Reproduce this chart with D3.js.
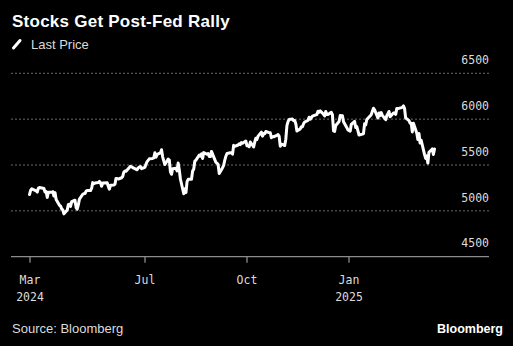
<!DOCTYPE html>
<html>
<head>
<meta charset="utf-8">
<script src="https://cdn.jsdelivr.net/npm/d3@7"></script>
<style>
  html, body { margin: 0; padding: 0; background: #000; }
  svg { display: block; }
</style>
</head>
<body>
<div id="chart"></div>
<script>
const chartWidth = 513;
const chartHeight = 346;

// S&P 500 daily close, one session per entry
const sessionDates = [
  "2024-03-19","2024-03-20","2024-03-21","2024-03-22","2024-03-25","2024-03-26","2024-03-27","2024-03-28",
  "2024-04-01","2024-04-02","2024-04-03","2024-04-04","2024-04-05","2024-04-08","2024-04-09","2024-04-10","2024-04-11","2024-04-12",
  "2024-04-15","2024-04-16","2024-04-17","2024-04-18","2024-04-19","2024-04-22","2024-04-23","2024-04-24","2024-04-25","2024-04-26",
  "2024-04-29","2024-04-30",
  "2024-05-01","2024-05-02","2024-05-03","2024-05-06","2024-05-07","2024-05-08","2024-05-09","2024-05-10","2024-05-13","2024-05-14",
  "2024-05-15","2024-05-16","2024-05-17","2024-05-20","2024-05-21","2024-05-22","2024-05-23","2024-05-24","2024-05-28","2024-05-29",
  "2024-05-30","2024-05-31",
  "2024-06-03","2024-06-04","2024-06-05","2024-06-06","2024-06-07","2024-06-10","2024-06-11","2024-06-12","2024-06-13","2024-06-14",
  "2024-06-17","2024-06-18","2024-06-20","2024-06-21","2024-06-24","2024-06-25","2024-06-26","2024-06-27","2024-06-28",
  "2024-07-01","2024-07-02","2024-07-03","2024-07-05","2024-07-08","2024-07-09","2024-07-10","2024-07-11","2024-07-12","2024-07-15",
  "2024-07-16","2024-07-17","2024-07-18","2024-07-19","2024-07-22","2024-07-23","2024-07-24","2024-07-25","2024-07-26","2024-07-29",
  "2024-07-30","2024-07-31",
  "2024-08-01","2024-08-02","2024-08-05","2024-08-06","2024-08-07","2024-08-08","2024-08-09","2024-08-12","2024-08-13","2024-08-14",
  "2024-08-15","2024-08-16","2024-08-19","2024-08-20","2024-08-21","2024-08-22","2024-08-23","2024-08-26","2024-08-27","2024-08-28",
  "2024-08-29","2024-08-30",
  "2024-09-03","2024-09-04","2024-09-05","2024-09-06","2024-09-09","2024-09-10","2024-09-11","2024-09-12","2024-09-13","2024-09-16",
  "2024-09-17","2024-09-18","2024-09-19","2024-09-20","2024-09-23","2024-09-24","2024-09-25","2024-09-26","2024-09-27","2024-09-30",
  "2024-10-01","2024-10-02","2024-10-03","2024-10-04","2024-10-07","2024-10-08","2024-10-09","2024-10-10","2024-10-11","2024-10-14",
  "2024-10-15","2024-10-16","2024-10-17","2024-10-18","2024-10-21","2024-10-22","2024-10-23","2024-10-24","2024-10-25","2024-10-28",
  "2024-10-29","2024-10-30","2024-10-31",
  "2024-11-01","2024-11-04","2024-11-05","2024-11-06","2024-11-07","2024-11-08","2024-11-11","2024-11-12","2024-11-13","2024-11-14",
  "2024-11-15","2024-11-18","2024-11-19","2024-11-20","2024-11-21","2024-11-22","2024-11-25","2024-11-26","2024-11-27","2024-11-29",
  "2024-12-02","2024-12-03","2024-12-04","2024-12-05","2024-12-06","2024-12-09","2024-12-10","2024-12-11","2024-12-12","2024-12-13",
  "2024-12-16","2024-12-17","2024-12-18","2024-12-19","2024-12-20","2024-12-23","2024-12-24","2024-12-26","2024-12-27","2024-12-30",
  "2024-12-31",
  "2025-01-02","2025-01-03","2025-01-06","2025-01-07","2025-01-08","2025-01-10","2025-01-13","2025-01-14","2025-01-15","2025-01-16",
  "2025-01-17","2025-01-21","2025-01-22","2025-01-23","2025-01-24","2025-01-27","2025-01-28","2025-01-29","2025-01-30","2025-01-31",
  "2025-02-03","2025-02-04","2025-02-05","2025-02-06","2025-02-07","2025-02-10","2025-02-11","2025-02-12","2025-02-13","2025-02-14",
  "2025-02-18","2025-02-19","2025-02-20","2025-02-21","2025-02-24","2025-02-25","2025-02-26","2025-02-27","2025-02-28",
  "2025-03-03","2025-03-04","2025-03-05","2025-03-06","2025-03-07","2025-03-10","2025-03-11","2025-03-12","2025-03-13","2025-03-14",
  "2025-03-17","2025-03-18","2025-03-19"
];

const closes = [
  5178, 5224, 5241, 5234, 5218, 5204, 5248, 5254,
  5243, 5205, 5211, 5147, 5204, 5202, 5209, 5161, 5199, 5123,
  5061, 5051, 5022, 5011, 4967, 5010, 5070, 5072, 5048, 5100,
  5116, 5036,
  5018, 5064, 5128, 5181, 5187, 5188, 5214, 5223, 5221, 5247,
  5308, 5297, 5303, 5308, 5321, 5307, 5268, 5305, 5306, 5267,
  5236, 5278,
  5283, 5291, 5354, 5353, 5347, 5361, 5375, 5421, 5434, 5431,
  5473, 5487, 5473, 5465, 5448, 5469, 5478, 5483, 5460,
  5475, 5509, 5537, 5567, 5572, 5577, 5633, 5585, 5615, 5631,
  5667, 5589, 5545, 5505, 5564, 5555, 5427, 5399, 5459, 5464,
  5436, 5522,
  5446, 5347, 5186, 5240, 5199, 5319, 5344, 5344, 5435, 5455,
  5543, 5554, 5608, 5597, 5621, 5571, 5635, 5617, 5625, 5592,
  5592, 5648,
  5529, 5520, 5503, 5408, 5471, 5496, 5554, 5596, 5626, 5633,
  5634, 5618, 5714, 5703, 5718, 5732, 5722, 5745, 5738, 5762,
  5709, 5709, 5699, 5751, 5696, 5751, 5792, 5780, 5815, 5859,
  5815, 5843, 5841, 5865, 5853, 5851, 5797, 5809, 5808, 5823,
  5832, 5813, 5705,
  5729, 5712, 5782, 5929, 5973, 5996, 6001, 5984, 5985, 5949,
  5871, 5894, 5917, 5917, 5949, 5969, 5987, 6021, 5999, 6032,
  6047, 6050, 6087, 6075, 6090, 6053, 6035, 6084, 6051, 6051,
  6074, 6050, 5872, 5867, 5931, 5975, 6040, 6037, 5971, 5907,
  5882,
  5869, 5942, 5975, 5909, 5918, 5827, 5837, 5843, 5950, 5937,
  5997, 6049, 6086, 6119, 6101, 6012, 6068, 6039, 6071, 6041,
  5994, 6037, 6061, 6084, 6026, 6066, 6068, 6052, 6115, 6115,
  6129, 6144, 6118, 6013, 5983, 5955, 5956, 5861, 5955,
  5850, 5778, 5843, 5739, 5770, 5615, 5572, 5599, 5522, 5639,
  5675, 5615, 5675
];

const yTicks = [4500, 5000, 5500, 6000, 6500];
const xTickDates = ["2024-03-19", "2024-07-01", "2024-10-01", "2025-01-01"];
const xTickMonths = ["Mar", "Jul", "Oct", "Jan"];
const xTickYears = ["2024", "", "", "2025"];

const parseDay = d3.utcParse("%Y-%m-%d");
const series = sessionDates.map((d, i) => ({ date: parseDay(d), close: closes[i] }));

const frameLeft = 11;
const frameRight = 489;
const textColor = "#dcdcdc";
const labelFont = "'DejaVu Sans Mono', 'Liberation Mono', monospace";
const bodyFont = "'Liberation Sans', Arial, sans-serif";

const svg = d3.select("#chart").append("svg")
  .attr("width", chartWidth)
  .attr("height", chartHeight)
  .attr("viewBox", [0, 0, chartWidth, chartHeight]);

svg.append("rect")
  .attr("width", chartWidth)
  .attr("height", chartHeight)
  .attr("fill", "#000");

const x = d3.scaleUtc()
  .domain(d3.extent(series, d => d.date))
  .range([29.5, 434.5]);

const y = d3.scaleLinear()
  .domain([4500, 6500])
  .range([256.7, 73.3]);

// Header
svg.append("text")
  .attr("x", 12)
  .attr("y", 27)
  .attr("fill", "#fff")
  .style("font-family", bodyFont)
  .style("font-weight", "bold")
  .style("font-size", "17px")
  .style("letter-spacing", "0.25px")
  .text("Stocks Get Post-Fed Rally");

svg.append("line")
  .attr("x1", 13.5).attr("y1", 48)
  .attr("x2", 20).attr("y2", 40.5)
  .attr("stroke", "#fff")
  .attr("stroke-width", 3)
  .attr("stroke-linecap", "round");

svg.append("text")
  .attr("x", 31)
  .attr("y", 48.5)
  .attr("fill", textColor)
  .style("font-family", bodyFont)
  .style("font-size", "13px")
  .text("Last Price");

// Dotted gridlines, the lowest tick sits on the axis
svg.append("g")
  .selectAll("line")
  .data(yTicks.slice(1))
  .join("line")
  .attr("x1", frameLeft)
  .attr("x2", frameRight)
  .attr("y1", d => y(d))
  .attr("y2", d => y(d))
  .attr("stroke", "#6a6a6a")
  .attr("stroke-width", 1)
  .attr("stroke-dasharray", "2,2");

svg.append("g")
  .selectAll("text")
  .data(yTicks)
  .join("text")
  .attr("x", frameRight)
  .attr("y", d => y(d) - 9.3)
  .attr("text-anchor", "end")
  .attr("fill", textColor)
  .style("font-family", labelFont)
  .style("font-size", "11.5px")
  .text(d => d);

// Bottom axis
const axisY = y(4500);
svg.append("line")
  .attr("x1", frameLeft)
  .attr("x2", frameRight)
  .attr("y1", axisY)
  .attr("y2", axisY)
  .attr("stroke", "#8c8c8c")
  .attr("stroke-width", 1.3);

const xTicks = svg.append("g")
  .selectAll("g")
  .data(xTickDates.map((d, i) => ({ date: parseDay(d), month: xTickMonths[i], year: xTickYears[i] })))
  .join("g")
  .attr("transform", d => "translate(" + Math.round(x(d.date)) + ",0)");

xTicks.append("line")
  .attr("y1", axisY)
  .attr("y2", axisY + 6)
  .attr("stroke", "#8c8c8c")
  .attr("stroke-width", 1.3);

xTicks.append("text")
  .attr("y", 283.5)
  .attr("text-anchor", "middle")
  .attr("fill", textColor)
  .style("font-family", labelFont)
  .style("font-size", "11.5px")
  .text(d => d.month);

xTicks.append("text")
  .attr("y", 301)
  .attr("text-anchor", "middle")
  .attr("fill", textColor)
  .style("font-family", labelFont)
  .style("font-size", "11.5px")
  .text(d => d.year);

// Price line
const line = d3.line()
  .x(d => x(d.date))
  .y(d => y(d.close));

svg.append("path")
  .datum(series)
  .attr("d", line)
  .attr("fill", "none")
  .attr("stroke", "#fff")
  .attr("stroke-width", 3)
  .attr("stroke-linejoin", "round")
  .attr("stroke-linecap", "round");

// Footer
svg.append("text")
  .attr("x", 12)
  .attr("y", 332.5)
  .attr("fill", textColor)
  .style("font-family", bodyFont)
  .style("font-size", "13px")
  .text("Source: Bloomberg");

svg.append("text")
  .attr("x", 503)
  .attr("y", 332.5)
  .attr("text-anchor", "end")
  .attr("fill", "#fff")
  .style("font-family", bodyFont)
  .style("font-weight", "bold")
  .style("font-size", "12.5px")
  .text("Bloomberg");
</script>
</body>
</html>
